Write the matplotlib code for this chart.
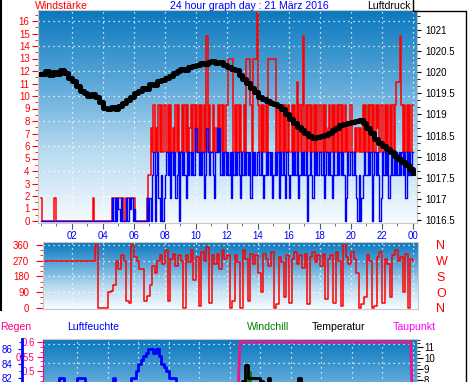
import numpy as np
import matplotlib
matplotlib.use("Agg")
import matplotlib.pyplot as plt
from matplotlib.colors import LinearSegmentedColormap
from matplotlib.ticker import MultipleLocator, AutoMinorLocator, FuncFormatter, FixedLocator
from matplotlib.lines import Line2D

plt.rcParams['font.family'] = ['Liberation Sans', 'DejaVu Sans']

# ---- data ----------------------------------------------------------------
# wind, one digit per 5 minutes (gust in knots, average in half knots)
gust_kn = ("100000000011" "000000000000" "000000000000" "000010000000"
           "000000011111" "111100111111" "100000000012" "243534353535"
           "535353435353" "353535345353" "535353538353" "353435353535"
           "577773535353" "353777537779" "535353537777" "773535353535"
           "335353635358" "353535353535" "535353453535" "353535353435"
           "533434343535" "353535354535" "535353535356" "668535353535")
avg_halfkn = ("000000000000" "000000000000" "000000000000" "000000000000"
              "000000020202" "102000202120" "100000000020" "204604620402"
              "464626462460" "646426464648" "864646248646" "642686846464"
              "646264646426" "464646264646" "646424646462" "464626464264"
              "246464624646" "460464264646" "646246464264" "464646402646"
              "646420402464" "464604646402" "646462464646" "464646264646")

# pressure (hPa), every 15 minutes
pressure = [1019.95, 1020.02, 1019.93, 1020.01, 1019.96, 1020.04, 1019.97, 1019.86,
            1019.80, 1019.66, 1019.55, 1019.50, 1019.44, 1019.48, 1019.40, 1019.30,
            1019.16, 1019.12, 1019.18, 1019.13, 1019.21, 1019.26, 1019.33, 1019.42,
            1019.50, 1019.55, 1019.62, 1019.60, 1019.72, 1019.70, 1019.78, 1019.82,
            1019.86, 1019.92, 1019.98, 1020.03, 1020.08, 1020.05, 1020.12, 1020.15,
            1020.17, 1020.21, 1020.19, 1020.24, 1020.26, 1020.22, 1020.25, 1020.16,
            1020.12, 1020.08, 1020.04, 1019.94, 1019.84, 1019.74, 1019.62, 1019.52,
            1019.42, 1019.36, 1019.32, 1019.28, 1019.25, 1019.20, 1019.12, 1019.02,
            1018.90, 1018.80, 1018.70, 1018.62, 1018.55, 1018.48, 1018.44, 1018.47,
            1018.50, 1018.52, 1018.56, 1018.62, 1018.68, 1018.74, 1018.78, 1018.80,
            1018.82, 1018.85, 1018.87, 1018.80, 1018.68, 1018.55, 1018.42, 1018.33,
            1018.25, 1018.17, 1018.10, 1018.02, 1017.95, 1017.87, 1017.80, 1017.70,
            1017.62]

# wind direction (deg), every 10 minutes
direction = ([270] * 21 + [360, 0, 0, 0, 0, 90, 95, 130, 270, 220, 300, 270, 40, 30,
             360, 290, 270, 220, 220, 40, 70, 130, 240, 200,
             270, 300, 250, 330, 40, 280, 310, 240, 300, 270, 0, 300, 260, 330, 160,
             290, 10, 320, 270, 350, 30, 300, 250, 310, 220, 330, 280, 300, 0, 40,
             300, 260, 0, 330, 280, 40, 310, 250, 300, 200, 90, 310, 280, 240, 320,
             0, 20, 290, 260, 60, 300, 30, 280, 320, 250, 300, 230, 310, 20, 290,
             320, 260, 300, 240, 310, 50, 280, 300, 30, 320, 270, 10, 360, 290, 250,
             320, 280, 200, 0, 20, 60, 300, 270, 0, 10, 290, 320, 30, 280, 250, 60,
             300, 330, 270, 290, 90, 310, 0, 280, 270])

# humidity (%), every 10 minutes
humidity = ([80] * 5 + [82, 82] + [81] * 5 + [82] * 3 + [81] * 11 + [82] + [81] * 6 +
            [82, 82, 83, 84, 84.5, 85, 85.5, 86, 86, 85.5, 86, 85, 84, 83.5, 83, 82, 82, 82, 81] +
            [80, 79, 78, 77, 76, 75, 74, 73, 72, 71, 70, 69, 68, 67, 66, 65, 65, 64, 64, 63] +
            [63] * 30 + [64] * 20 + [66] * 23)

# temperature / windchill / dewpoint (C), rain (mm), every 10 minutes
temperature = ([3.5] * 36 +
               [3.6, 3.8, 4.0, 4.3, 4.6, 4.9, 5.2, 5.5, 5.8, 6.0, 6.2, 6.4, 6.6, 6.8, 6.9, 7.0,
                7.1, 7.2, 7.3, 7.3, 7.4, 7.4, 7.5, 7.5] +
               [7.5, 7.6, 7.5, 7.6, 7.6, 7.5, 7.6, 7.6, 7.5, 7.6, 7.5, 7.6, 7.6, 7.6, 7.5, 7.6, 7.6] +
               [7.9, 9.4, 8.2, 8.2, 8.2, 8.2, 8.2, 7.9, 7.6, 7.6, 8.2, 7.6] +
               [7.6, 7.5, 7.6, 7.6, 7.5, 7.6, 7.5, 7.6, 7.5, 7.6] + [8.2, 7.6] +
               [7.4, 7.3, 7.2, 7.0, 6.8, 6.6, 6.4, 6.2, 6.0, 5.8, 5.6, 5.4, 5.2, 5.0, 4.9, 4.8,
                4.7, 4.6, 4.5, 4.4, 4.3, 4.2] + [4.1] * 22)
windchill = ([2.5] * 36 +
             [2.6, 2.8, 3.0, 3.3, 3.6, 3.9, 4.2, 4.5, 4.8, 5.0, 5.2, 5.4, 5.6, 5.8, 5.9, 6.0,
              6.1, 6.2, 6.3, 6.3, 6.4, 6.4, 6.5, 6.5] +
             [6.7] * 19 + [8.7] + [6.9] * 21 +
             [6.6, 6.4, 6.2, 6.0, 5.8, 5.6, 5.4, 5.2, 5.0, 4.8, 4.6, 4.4, 4.2, 4.0, 3.9, 3.8,
              3.7, 3.6, 3.5, 3.4, 3.3, 3.2] + [3.1] * 22)
dewpoint = [5.0] * 76 + [11.45] * 68 + [5.0]
rain = [0.0] * 145

hour_ticks = list(range(2, 25, 2))
hour_labels = ["%02d" % (h % 24) for h in hour_ticks]

# ---- layout (pixel boxes) ------------------------------------------------
W, H = 470, 382
fig = plt.figure(figsize=(W / 100, H / 100), dpi=100)
fig.patch.set_facecolor('white')


def box(x0, y0, x1, y1):
    return [x0 / W, 1 - y1 / H, (x1 - x0) / W, (y1 - y0) / H]


bg = LinearSegmentedColormap.from_list('bg', ['#0a78be', '#5aa7d8', '#b9dbf0', '#f7fbfe'])
dots = dict(color='white', lw=0.9, ls=(0, (1, 3)), zorder=1)


def backdrop(ax):
    ax.imshow(np.linspace(0, 1, 256).reshape(-1, 1), cmap=bg, extent=[0, 1, 0, 1],
              transform=ax.transAxes, aspect='auto', zorder=0, interpolation='bilinear')
    for s in ax.spines.values():
        s.set_color('#c8c8c8')


t5 = np.arange(289) / 12.0
t10 = np.arange(145) / 6.0
t15 = np.arange(97) / 4.0
gust = np.array([int(c) for c in gust_kn + gust_kn[-1]]) * 1.852
avg = np.array([int(c) for c in avg_halfkn + avg_halfkn[-1]]) * 0.926

# ---- top: wind + pressure ------------------------------------------------
ax1 = fig.add_axes(box(38, 10, 417, 223))
backdrop(ax1)
for v in range(0, 17, 2):
    ax1.axhline(v, **dots)
for h in hour_ticks:
    ax1.axvline(h, **dots)
ax1.plot(t5, gust, drawstyle='steps-post', color='#ff0000', lw=1.1, zorder=2)
ax1.plot(t5, avg, drawstyle='steps-post', color='#0000ff', lw=1.0, zorder=3)
ax1.set_xlim(-0.19, 24.26)
ax1.set_ylim(-0.16, 16.88)
ax1.yaxis.set_major_locator(MultipleLocator(1))
ax1.yaxis.set_minor_locator(AutoMinorLocator(2))
ax1.tick_params(axis='y', colors='red', labelsize=7, length=4, pad=2)
ax1.tick_params(axis='y', which='minor', colors='red', length=2)
ax1.set_xticks(hour_ticks, hour_labels)
ax1.xaxis.set_minor_locator(MultipleLocator(1))
ax1.tick_params(axis='x', colors='#555555', labelcolor='#0000ff', labelsize=7, length=4, pad=2)
ax1.tick_params(axis='x', which='minor', colors='#555555', length=2)

ax1p = ax1.twinx()
ax1p.plot(t15, pressure, drawstyle='steps-post', color='black', lw=3.6, zorder=4)
ax1p.set_ylim(1016.43, 1021.47)
ax1p.yaxis.set_major_locator(MultipleLocator(0.5))
ax1p.yaxis.set_minor_locator(AutoMinorLocator(3))
ax1p.yaxis.set_major_formatter(FuncFormatter(lambda v, p: "%g" % v))
ax1p.tick_params(axis='y', colors='black', labelsize=7, length=3, pad=3)
ax1p.tick_params(axis='y', which='minor', length=2)
for s in ax1p.spines.values():
    s.set_visible(False)

# ---- middle: wind direction ----------------------------------------------
ax2 = fig.add_axes(box(43, 242, 418, 309))
backdrop(ax2)
for v in (90, 180, 270, 360):
    ax2.axhline(v, **dots)
for h in hour_ticks:
    ax2.axvline(h, **dots)
ax2.plot(t10, direction, drawstyle='steps-post', color='#ff0000', lw=1.1, zorder=2)
ax2.set_xlim(0.13, 24.32)
ax2.set_ylim(-6, 377)
ax2.set_yticks([0, 90, 180, 270, 360])
ax2.yaxis.set_minor_locator(AutoMinorLocator(3))
ax2.tick_params(axis='y', colors='red', labelsize=7, length=5, pad=5)
ax2.tick_params(axis='y', which='minor', colors='red', length=2)
ax2.tick_params(axis='x', length=0, labelbottom=False)
ax2r = ax2.twinx()
ax2r.set_ylim(-6, 377)
ax2r.set_yticks([0, 90, 180, 270, 360], ['N', 'O', 'S', 'W', 'N'])
ax2r.tick_params(axis='y', length=0, pad=13, labelsize=9, labelcolor='red')
for s in ax2r.spines.values():
    s.set_visible(False)

# ---- bottom: rain / humidity / temperatures -------------------------------
ax3 = fig.add_axes(box(43, 339, 417, 460))
backdrop(ax3)
for f in (0.959, 0.802, 0.645, 0.488, 0.331, 0.174):
    ax3.plot([0, 1], [f, f], transform=ax3.transAxes, **dots)
for h in hour_ticks:
    ax3.axvline(h, **dots)
ax3.plot(t10, rain, drawstyle='steps-post', color='#ff0080', lw=1.5, zorder=2)
ax3.set_xlim(-0.23, 24.26)
ax3.set_ylim(0.197, 0.61)
ax3.yaxis.set_major_locator(FixedLocator([0.5, 0.55, 0.6]))
ax3.yaxis.set_minor_locator(FixedLocator([0.4667, 0.4833, 0.5167, 0.5333, 0.5667, 0.5833]))
ax3.yaxis.set_major_formatter(FuncFormatter(lambda v, p: "%g" % round(v, 2)))
ax3.tick_params(axis='y', colors='#ff0080', labelsize=7, length=4, pad=2)
ax3.tick_params(axis='y', which='minor', colors='#ff0080', length=2)
ax3.spines['left'].set_color('#ff0080')
ax3.tick_params(axis='x', length=0, labelbottom=False)

axh = ax3.twinx()
axh.plot(t10, humidity, drawstyle='steps-post', color='#0000ff', lw=2.0, zorder=3)
axh.set_ylim(70.7, 87.38)
axh.spines['left'].set_position(('axes', (22 - 43) / 374))
axh.spines['left'].set_visible(True)
axh.spines['left'].set_color('#0000ff')
axh.spines['left'].set_linewidth(2)
axh.spines['right'].set_visible(False)
axh.spines['top'].set_visible(False)
axh.spines['bottom'].set_visible(False)
axh.yaxis.set_ticks_position('left')
axh.yaxis.set_major_locator(FixedLocator([82, 84, 86]))
axh.yaxis.set_minor_locator(FixedLocator([81, 83, 85, 87]))
axh.tick_params(axis='y', colors='#0000ff', labelsize=7, length=3, pad=4)
axh.tick_params(axis='y', which='minor', colors='#0000ff', length=2)

axt = ax3.twinx()
axt.plot(t10, windchill, drawstyle='steps-post', color='#008000', lw=2.0, zorder=3)
axt.plot(t10, temperature, drawstyle='steps-post', color='black', lw=2.0, zorder=4)
axt.plot(t10, dewpoint, color='#f0148c', lw=2.0, zorder=5)
axt.set_ylim(0.73, 11.73)
axt.yaxis.set_major_locator(FixedLocator([8, 9, 10, 11]))
axt.yaxis.set_minor_locator(FixedLocator([7.67, 8.33, 8.67, 9.33, 9.67, 10.33, 10.67, 11.33, 11.67]))
axt.tick_params(axis='y', colors='black', labelsize=7, length=4, pad=1)
axt.tick_params(axis='y', which='minor', length=2)
for s in axt.spines.values():
    s.set_visible(False)

# ---- texts ---------------------------------------------------------------
def label(x, y, s, c, ha='left'):
    fig.text(x / W, 1 - y / H, s, color=c, fontsize=7.6, ha=ha, va='center')


label(35, 6, "Windstärke", '#ff0000')
label(170, 6, "24 hour graph day : 21 März 2016", '#0000ff')
label(411, 6, "Luftdruck", 'black', ha='right')
label(0, 327, "Regen", '#ff0080')
label(67, 327, "Luftfeuchte", '#0000ff')
label(247, 327, "Windchill", '#008000')
label(312, 327, "Temperatur", 'black')
label(393, 327, "Taupunkt", '#ff00ff')

# black frame pieces
fig.add_artist(Line2D([1 / W, 1 / W], [1, 1 - 310 / H], color='black', lw=1.5))
fig.add_artist(Line2D([412.5 / W, 412.5 / W, 465.5 / W, 465.5 / W],
                      [1, 1 - 11 / H, 1 - 11 / H, 0], color='black', lw=1))

fig.savefig("out.png", dpi=100)
